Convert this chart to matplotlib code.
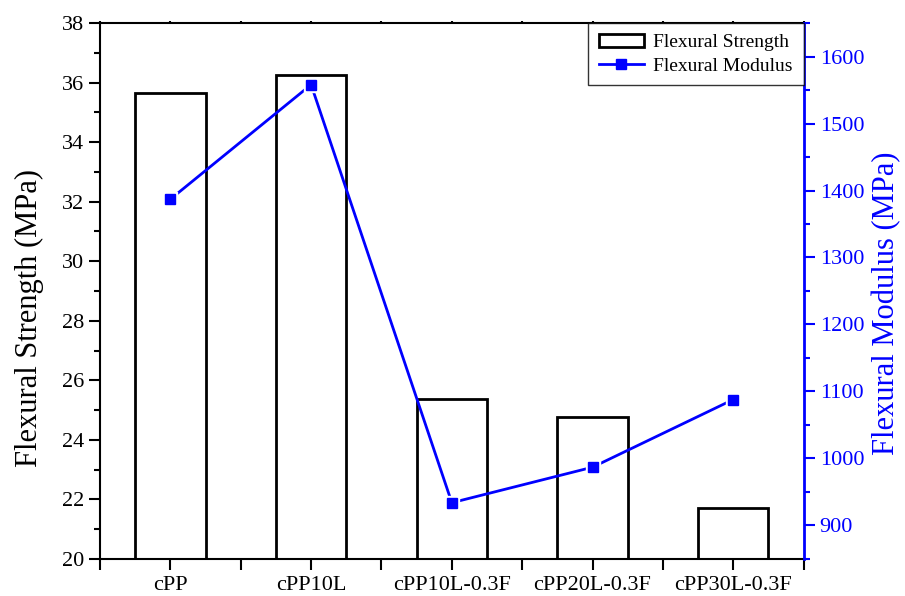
import numpy as np
import matplotlib
matplotlib.use("Agg")
import matplotlib.pyplot as plt
from matplotlib.ticker import MultipleLocator

plt.rcParams['font.family'] = ['Liberation Serif', 'DejaVu Serif']

samples = ["cPP", "cPP10L", "cPP10L-0.3F", "cPP20L-0.3F", "cPP30L-0.3F"]
strength = [35.66, 36.24, 25.38, 24.76, 21.72]
modulus = [1387, 1558, 934, 987, 1088]


def main():
    fig = plt.figure(figsize=(9.05, 5.96), dpi=100)
    ax = fig.add_axes([0.1105, 0.0621, 0.7775, 0.8993])
    x = np.arange(len(samples))

    bars = ax.bar(x, strength, width=0.5, bottom=0, color="white",
                  edgecolor="black", linewidth=2, label="Flexural Strength")
    ax.set_xlim(-0.5, 4.5)
    ax.set_ylim(20, 38)
    ax.set_xticks(x)
    ax.set_xticklabels(samples)
    ax.xaxis.set_minor_locator(MultipleLocator(1, offset=0.5))
    ax.yaxis.set_major_locator(MultipleLocator(2))
    ax.yaxis.set_minor_locator(MultipleLocator(1))
    ax.tick_params(axis="both", which="major", direction="out", length=8,
                   width=1.5, labelsize=16, color="black")
    ax.tick_params(axis="both", which="minor", direction="out", length=4,
                   width=1.5)
    ax.tick_params(axis="x", which="both", top=True, length=8, pad=4)
    # barely visible ticks on the top spine
    for t in ax.xaxis.get_major_ticks() + ax.xaxis.get_minor_ticks():
        t.tick2line.set_markersize(1.5)
    ax.set_ylabel("Flexural Strength (MPa)", fontsize=22)
    ax.yaxis.set_label_coords(-0.08, 0.45)
    for side in ["left", "bottom", "top"]:
        ax.spines[side].set_linewidth(1.5)
    ax.spines["right"].set_visible(False)

    ax2 = ax.twinx()
    ax2.plot(x, modulus, color="#0000ff", linewidth=2, zorder=2)
    ax2.plot(x, modulus, linestyle="none", marker="s", markersize=10,
             color="white", zorder=3)
    ax2.plot(x, modulus, linestyle="none", marker="s", markersize=7,
             color="#0000ff", zorder=4)
    ax2.set_ylim(850, 1650)
    ax2.yaxis.set_major_locator(MultipleLocator(100))
    ax2.yaxis.set_minor_locator(MultipleLocator(50))
    ax2.tick_params(axis="y", which="major", direction="out", length=8,
                    width=1.5, labelsize=16, color="#0000ff",
                    labelcolor="#0000ff")
    ax2.tick_params(axis="y", which="minor", direction="out", length=4,
                    width=1.5, color="#0000ff")
    ax2.spines["right"].set_color("#0000ff")
    ax2.spines["right"].set_linewidth(2)
    for side in ["left", "bottom", "top"]:
        ax2.spines[side].set_visible(False)
    ax2.set_ylabel("Flexural Modulus (MPa)", fontsize=22, color="#0000ff")
    ax2.yaxis.set_label_coords(1.097, 0.478)

    handle_line = plt.Line2D([], [], color="#0000ff", linewidth=2,
                             marker="s", markersize=7)
    leg = ax2.legend([bars, handle_line], ["Flexural Strength", "Flexural Modulus"],
                     loc="upper right", fontsize=14, frameon=True, fancybox=False,
                     edgecolor="black", borderaxespad=0.0, handlelength=2.3,
                     borderpad=0.55, labelspacing=0.3, handletextpad=0.5)
    leg.get_frame().set_linewidth(1)

    fig.savefig("out.png", dpi=100)


if __name__ == "__main__":
    main()
